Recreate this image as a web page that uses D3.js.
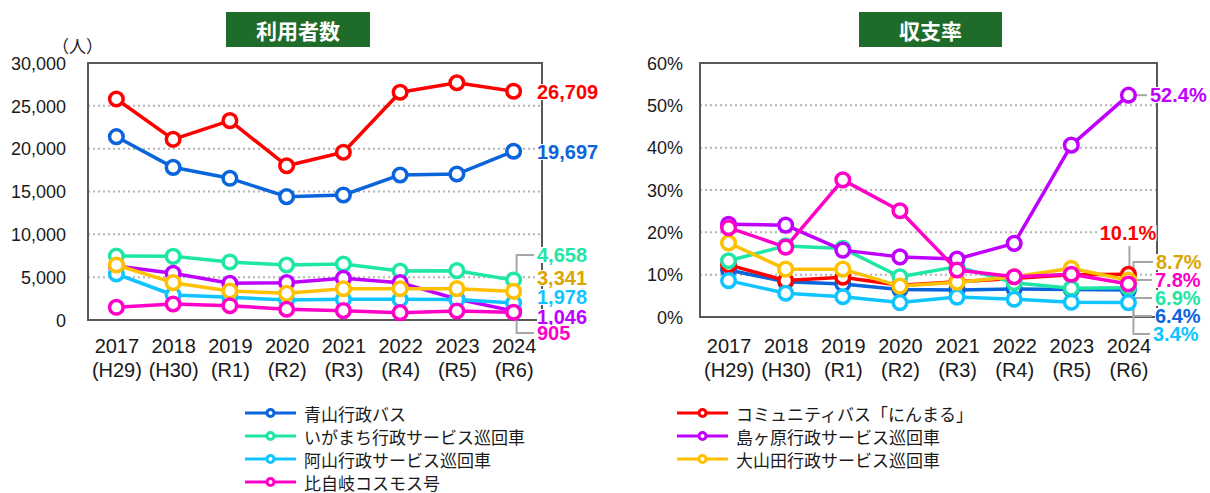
<!DOCTYPE html>
<html>
<head>
<meta charset="utf-8">
<script src="https://cdn.jsdelivr.net/npm/d3@7"></script>
<style>
  body { margin: 0; background: #fff; }
  svg { display: block; }
</style>
</head>
<body>
<svg></svg>
<script>
const years = ['2017', '2018', '2019', '2020', '2021', '2022', '2023', '2024']
const eras = ['(H29)', '(H30)', '(R1)', '(R2)', '(R3)', '(R4)', '(R5)', '(R6)']

const seriesNames = [
  '青山行政バス',
  'コミュニティバス「にんまる」',
  'いがまち行政サービス巡回車',
  '島ヶ原行政サービス巡回車',
  '阿山行政サービス巡回車',
  '大山田行政サービス巡回車',
  '比自岐コスモス号'
]
const seriesColors = ['#0a64dc', '#ff0000', '#1ee6a5', '#c000ff', '#10c4ff', '#ffc000', '#ff00c8']
const labelColors = ['#0a64dc', '#ff0000', '#1ee6a5', '#c000ff', '#10c4ff', '#dca600', '#ff00c8']

// 利用者数 (人)
const ridersAoyama = [21400, 17820, 16540, 14400, 14590, 16930, 17040, 19697]
const ridersNinmaru = [25800, 21090, 23270, 18010, 19580, 26580, 27700, 26709]
const ridersIgamachi = [7470, 7430, 6770, 6420, 6540, 5720, 5760, 4658]
const ridersShimagahara = [6300, 5450, 4280, 4360, 4860, 4360, 2450, 1046]
const ridersAyama = [5370, 2920, 2650, 2330, 2410, 2410, 2400, 1978]
const ridersOyamada = [6420, 4360, 3390, 3110, 3650, 3650, 3660, 3341]
const ridersHijiki = [1480, 1870, 1670, 1250, 1090, 860, 1050, 905]

// 収支率 (%)
const ratioAoyama = [11.1, 8.3, 7.8, 6.5, 6.4, 6.6, 6.5, 6.4]
const ratioNinmaru = [12.3, 8.6, 9.4, 7.5, 8.3, 9.1, 10.0, 10.1]
const ratioIgamachi = [13.3, 16.8, 16.2, 9.5, 11.9, 8.1, 6.8, 6.9]
const ratioShimagahara = [21.9, 21.7, 15.8, 14.2, 13.7, 17.4, 40.6, 52.4]
const ratioAyama = [8.6, 5.6, 4.8, 3.4, 4.7, 4.2, 3.5, 3.4]
const ratioOyamada = [17.5, 11.3, 11.3, 7.3, 8.2, 9.5, 11.5, 8.7]
const ratioHijiki = [21.1, 16.5, 32.4, 25.1, 11.1, 9.5, 10.1, 7.8]

const ridersTicks = [0, 5000, 10000, 15000, 20000, 25000, 30000]
const ratioTicks = [0, 10, 20, 30, 40, 50, 60]

const FONT = 'Arial, "Liberation Sans", sans-serif'
const JP = '"Noto Sans CJK JP", "Noto Sans", sans-serif'

let svg = d3.select('svg').attr('width', 1210).attr('height', 493)

function drawTitle (x, w, text) {
  svg.append('rect')
    .attr('x', x).attr('y', 12).attr('width', w).attr('height', 35)
    .attr('fill', '#1f6b2a')
  svg.append('text')
    .attr('x', x + w / 2).attr('y', 30)
    .attr('text-anchor', 'middle')
    .attr('dominant-baseline', 'central')
    .attr('fill', '#fff')
    .attr('font-family', JP)
    .attr('font-weight', 'bold')
    .attr('font-size', 21)
    .text(text)
}

// cfg: plot area, scales, series and end-label layout
function drawChart (cfg) {
  let g = svg.append('g')
  let x = d3.scalePoint().domain(years).range([cfg.x0, cfg.x1]).padding(0.5)
  let y = d3.scaleLinear().domain(cfg.domain).range([cfg.y1, cfg.y0])

  // grid
  g.selectAll('line.grid')
    .data(cfg.ticks.slice(1, -1))
    .join('line')
    .attr('x1', cfg.x0).attr('x2', cfg.x1)
    .attr('y1', d => y(d)).attr('y2', d => y(d))
    .attr('stroke', '#b3b3b3')
    .attr('stroke-width', 2)
    .attr('stroke-dasharray', '2,3')

  // y axis labels
  let yAxis = d3.axisLeft(y).tickValues(cfg.ticks).tickFormat(cfg.tickFormat).tickSize(0).tickPadding(0)
  let ya = g.append('g').attr('transform', `translate(${cfg.tickRight},0)`).call(yAxis)
  ya.select('.domain').remove()
  ya.selectAll('text')
    .attr('font-family', FONT)
    .attr('font-size', 18)
    .attr('fill', '#1a1a1a')
    .attr('dy', '0.35em')

  // x axis labels (two lines)
  let xAxis = d3.axisBottom(x).tickSize(0).tickFormat('')
  let xa = g.append('g').attr('transform', `translate(0,${cfg.y1})`).call(xAxis)
  xa.select('.domain').remove()
  xa.selectAll('.tick').each(function (d, i) {
    let t = d3.select(this)
    t.append('text').attr('y', 353 - cfg.y1).text(d)
    t.append('text').attr('y', 377 - cfg.y1).text(eras[i])
    t.selectAll('text')
      .attr('fill', '#1a1a1a')
      .attr('font-family', FONT)
      .attr('font-size', 20)
      .attr('text-anchor', 'middle')
  })

  // plot border
  g.append('rect')
    .attr('x', cfg.x0).attr('y', cfg.y0)
    .attr('width', cfg.x1 - cfg.x0).attr('height', cfg.y1 - cfg.y0)
    .attr('fill', 'none')
    .attr('stroke', '#595959')
    .attr('stroke-width', 2)

  let lastX = x(years[years.length - 1])

  // leader lines
  cfg.labels.forEach(function (l, i) {
    if (!l.leader) return
    let vy = y(cfg.series[i][cfg.series[i].length - 1])
    let pts
    if (l.leader === 'down') {
      pts = [[lastX + 1, l.y + 13], [lastX + 1, vy - 4]]
    } else if (l.leader === 'short') {
      pts = [[lastX + 7, vy], [l.x - 3, vy]]
    } else {
      pts = [[l.x - 3, l.y], [lastX + l.leader, l.y], [lastX + l.leader, vy]]
    }
    g.append('path')
      .attr('d', d3.line()(pts))
      .attr('fill', 'none')
      .attr('stroke', '#a6a6a6')
      .attr('stroke-width', 2)
  })

  // series
  let line = d3.line().x((d, i) => x(years[i])).y(d => y(d))
  cfg.series.forEach(function (vals, s) {
    let sg = g.append('g')
    sg.append('path')
      .attr('d', line(vals))
      .attr('fill', 'none')
      .attr('stroke', seriesColors[s])
      .attr('stroke-width', 3.5)
      .attr('stroke-linejoin', 'round')
    sg.selectAll('circle')
      .data(vals)
      .join('circle')
      .attr('cx', (d, i) => x(years[i]))
      .attr('cy', d => y(d))
      .attr('r', 6.8)
      .attr('fill', '#fff')
      .attr('stroke', seriesColors[s])
      .attr('stroke-width', 3.5)
  })

  // end labels
  cfg.labels.forEach(function (l, i) {
    let v = cfg.series[i][cfg.series[i].length - 1]
    let lg = g.append('g')
    let t = lg.append('text')
      .attr('x', l.x).attr('y', l.y)
      .attr('text-anchor', l.anchor || 'start')
      .attr('dominant-baseline', 'central')
      .attr('font-family', FONT)
      .attr('font-weight', 'bold')
      .attr('font-size', 20)
      .attr('fill', labelColors[i])
      .text(cfg.labelFormat(v))
    let b = t.node().getBBox()
    lg.insert('rect', 'text')
      .attr('x', b.x).attr('y', b.y + 3)
      .attr('width', b.width).attr('height', b.height - 6)
      .attr('fill', '#fff')
  })
}

drawTitle(226, 144, '利用者数')
drawTitle(859, 143, '収支率')

svg.append('text')
  .attr('x', 52).attr('y', 45)
  .attr('dominant-baseline', 'central')
  .attr('font-family', JP)
  .attr('font-size', 17)
  .attr('fill', '#1a1a1a')
  .text('（人）')

drawChart({
  x0: 88, x1: 542, y0: 63, y1: 320,
  domain: [0, 30000],
  ticks: ridersTicks,
  tickRight: 66,
  tickFormat: d3.format(','),
  labelFormat: d3.format(','),
  series: [ridersAoyama, ridersNinmaru, ridersIgamachi, ridersShimagahara, ridersAyama, ridersOyamada, ridersHijiki],
  labels: [
    {x: 537, y: 152},
    {x: 537, y: 92},
    {x: 537, y: 255, leader: 3},
    {x: 537, y: 317},
    {x: 537, y: 297},
    {x: 537, y: 278},
    {x: 537, y: 333, leader: 3}
  ]
})

drawChart({
  x0: 700, x1: 1157, y0: 63, y1: 317,
  domain: [0, 60],
  ticks: ratioTicks,
  tickRight: 683,
  tickFormat: d => d + '%',
  labelFormat: d => d3.format('.1f')(d) + '%',
  series: [ratioAoyama, ratioNinmaru, ratioIgamachi, ratioShimagahara, ratioAyama, ratioOyamada, ratioHijiki],
  labels: [
    {x: 1155, y: 316, leader: 5},
    {x: 1128, y: 233, anchor: 'middle', leader: 'down'},
    {x: 1155, y: 298, leader: 5},
    {x: 1150, y: 95, leader: 'short'},
    {x: 1153, y: 334, leader: 5},
    {x: 1156, y: 262, leader: 5},
    {x: 1155, y: 280, leader: 5}
  ]
})

// legend: left column / right column
const legendLeft = [0, 2, 4, 6]
const legendRight = [1, 3, 5]
const legendRows = [413, 436, 459, 482]

function drawLegend (idx, lx) {
  idx.forEach(function (s, r) {
    let lg = svg.append('g').attr('transform', `translate(${lx},${legendRows[r]})`)
    lg.append('line')
      .attr('x1', 0).attr('x2', 51)
      .attr('stroke', seriesColors[s])
      .attr('stroke-width', 3)
    lg.append('circle')
      .attr('cx', 25.5).attr('r', 3.5)
      .attr('fill', '#fff')
      .attr('stroke', seriesColors[s])
      .attr('stroke-width', 3)
    lg.append('text')
      .attr('x', 59)
      .attr('dominant-baseline', 'central')
      .attr('font-family', JP)
      .attr('font-size', 17)
      .attr('fill', '#1a1a1a')
      .text(seriesNames[s])
  })
}
drawLegend(legendLeft, 245)
drawLegend(legendRight, 677)
</script>
</body>
</html>
